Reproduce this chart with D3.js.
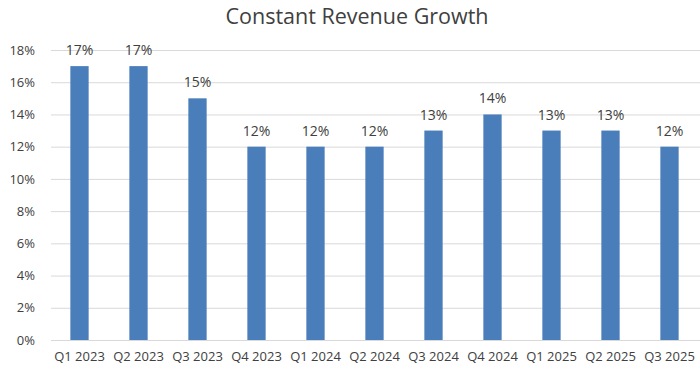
<!DOCTYPE html>
<html><head><meta charset="utf-8">
<script src="https://cdn.jsdelivr.net/npm/d3@7"></script>
<style>body{margin:0;background:#fff}svg{display:block}</style>
</head><body>
<script>
const categories = ["Q1 2023","Q2 2023","Q3 2023","Q4 2023","Q1 2024","Q2 2024","Q3 2024","Q4 2024","Q1 2025","Q2 2025","Q3 2025"];
const values = [17,17,15,12,12,12,13,14,13,13,12];
const yTicks = [0,2,4,6,8,10,12,14,16,18];
const title = "Constant Revenue Growth";

const W = 700, H = 369;
const svg = d3.select("body").append("svg").attr("width", W).attr("height", H);
const font = "'Open Sans', 'Liberation Sans', sans-serif";
const x = d3.scaleBand().domain(categories).range([50, 699]).paddingInner(0.69).paddingOuter(0.345);
const y = d3.scaleLinear().domain([0, 18]).range([340, 50]);

svg.append("text").attr("x", 357).attr("y", 24).attr("text-anchor", "middle")
  .attr("font-family", font).attr("font-size", 21.5).attr("fill", "#404040").text(title);

const yAxis = svg.append("g").attr("transform", "translate(51,0)")
  .call(d3.axisLeft(y).tickValues(yTicks).tickSize(-649).tickFormat(d => d + "%"));
yAxis.select(".domain").remove();
yAxis.selectAll("line").attr("stroke", "#d9d9d9");
yAxis.selectAll("text").attr("x", -16).attr("font-family", font).attr("font-size", 13).attr("fill", "#404040");

svg.selectAll("rect.bar").data(values).join("rect").attr("class", "bar")
  .attr("x", (d, i) => x(categories[i])).attr("width", x.bandwidth())
  .attr("y", d => y(d)).attr("height", d => y(0) - y(d)).attr("fill", "#4a7ebb");

svg.selectAll("text.lbl").data(values).join("text").attr("class", "lbl")
  .attr("x", (d, i) => x(categories[i]) + x.bandwidth() / 2).attr("y", d => y(d) - 11)
  .attr("text-anchor", "middle").attr("font-family", font).attr("font-size", 14).attr("fill", "#404040")
  .text(d => d + "%");

const xAxis = svg.append("g").attr("transform", "translate(0,340)")
  .call(d3.axisBottom(x).tickSize(0));
xAxis.select(".domain").remove();
xAxis.selectAll("text").attr("dy", "1.15em").attr("y", 6).attr("font-family", font).attr("font-size", 13).attr("fill", "#404040");
</script>
</body></html>
